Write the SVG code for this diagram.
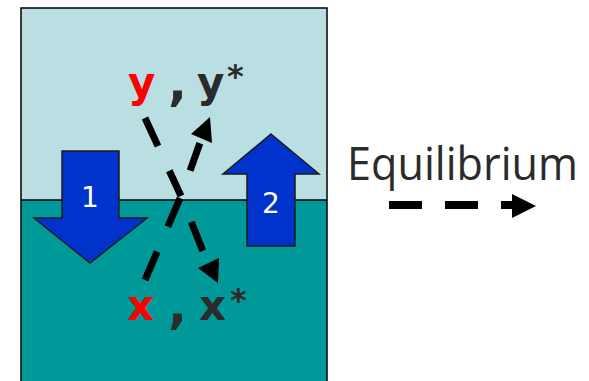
<svg xmlns="http://www.w3.org/2000/svg" width="589" height="381" viewBox="0 0 589 381">
<style>
.blk{stroke:#000;stroke-width:7;fill:none}
.ah{fill:#000}
.bluearrow{fill:#0033CC;stroke:#1a1a1a;stroke-width:1.5}
.num{font-family:"DejaVu Sans",Verdana,sans-serif;font-size:28px;fill:#fff;text-anchor:middle}
.var{font-family:"DejaVu Sans",Verdana,sans-serif;font-weight:bold;font-size:42px}
.comma{font-family:"DejaVu Sans",Verdana,sans-serif;font-weight:bold;font-size:50px;fill:#2B2B2B}
.red{fill:#FF0000}
.dark{fill:#2B2B2B}
.star{font-family:"DejaVu Sans",Verdana,sans-serif;font-weight:bold;font-size:32px;fill:#2B2B2B}
</style>
<rect width="589" height="381" fill="#fff"/>
<g id="box">
<rect x="21" y="8" width="306" height="192" fill="#B9DFE2"/>
<rect x="21" y="200" width="306" height="190" fill="#009999"/>
<line x1="21" y1="200" x2="327" y2="200" stroke="#000" stroke-width="1.5"/>
<rect x="21" y="8" width="306" height="390" fill="none" stroke="#000" stroke-width="1.5"/>
</g>
<g id="arrow1">
<polygon class="bluearrow" points="62,151 119,151 119,218 147,218 90,263 34,218 62,218"/>
<text class="num" x="90" y="207">1</text>
</g>
<g id="arrow2">
<polygon class="bluearrow" points="271,134 319,174 295,174 295,246 247,246 247,174 223,174"/>
<text class="num" x="271" y="213">2</text>
</g>
<g id="labels-y">
<text class="var red" x="128" y="97">y</text>
<text class="comma" x="168" y="100">,</text>
<text class="var dark" x="197" y="97">y</text>
<text class="star" x="227" y="87">*</text>
</g>
<g id="labels-x">
<text class="var red" x="127" y="320">x</text>
<text class="comma" x="168" y="323">,</text>
<text class="var dark" x="199" y="320">x</text>
<text class="star" x="230" y="311">*</text>
</g>
<g id="equilibrium">
<text x="347" y="180" font-family="'Open Sans','Noto Sans',sans-serif" font-size="45" fill="#2B2B2B" textLength="231" lengthAdjust="spacingAndGlyphs">Equilibrium</text>
</g>
<g id="connectors">
<line class="blk" x1="145" y1="118" x2="181" y2="196" stroke-dasharray="31 27"/>
<line class="blk" x1="145" y1="280" x2="181" y2="196" stroke-dasharray="31 27"/>
<line class="blk" x1="181" y1="196" x2="201" y2="140" stroke-dasharray="29 27" stroke-dashoffset="29"/>
<polygon class="ah" points="210,117 191,134 212,143"/>
<line class="blk" x1="181" y1="196" x2="208" y2="264" stroke-dasharray="31 28" stroke-dashoffset="31"/>
<polygon class="ah" points="218,283 198,268 219,258"/>
<line x1="389" y1="205" x2="514" y2="205" stroke="#000" stroke-width="8" stroke-dasharray="33 23"/>
<polygon class="ah" points="512,194 536,206 512,218"/>
</g>
</svg>
